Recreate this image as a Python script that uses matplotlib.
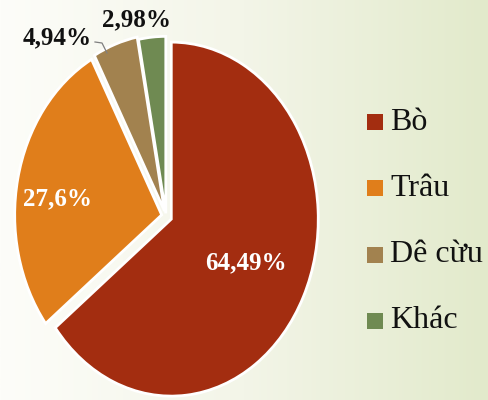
import numpy as np
import matplotlib
matplotlib.use("Agg")
import matplotlib.pyplot as plt
from matplotlib.colors import LinearSegmentedColormap
from matplotlib.patches import Rectangle
from matplotlib import font_manager as fm

# ---- data ----
categories = ["Bò", "Trâu", "Dê cừu", "Khác"]
values = [64.49, 27.6, 4.94, 2.98]
value_labels = ["64,49%", "27,6%", "4,94%", "2,98%"]
colors = ["#A32D10", "#E07E1B", "#A2824F", "#6F8A52"]

W, H = 489, 400
fig = plt.figure(figsize=(W / 100, H / 100), dpi=100)

# fonts (Times-like serif)
reg_path = fm.findfont(fm.FontProperties(family="Liberation Serif", weight="normal"))
bold_path = fm.findfont(fm.FontProperties(family="Liberation Serif", weight="bold"))
fp_leg = fm.FontProperties(fname=reg_path, size=23)
fp_lab = fm.FontProperties(fname=bold_path, size=18)

# background gradient
bg = fig.add_axes([0, 0, 1, 1])
bg.set_axis_off()
grad = np.linspace(0, 1, 256).reshape(1, -1)
cmap = LinearSegmentedColormap.from_list("bg", ["#FDFDF9", "#F3F5E8", "#E2EACB"])
bg.imshow(grad, aspect="auto", cmap=cmap, extent=[0, 1, 0, 1])
bg.set_xlim(0, 1)
bg.set_ylim(0, 1)

# pie axes in pixel-scaled data coords
ax = fig.add_axes([0, 0, 1, 1])
ax.set_axis_off()
ax.patch.set_alpha(0)
rx, ry = 147.0, 177.0
cx, cy = 166.0, 216.0  # pixel center (from top)

explode = [0.04, 0.03, 0.03, 0.015]
wedges, _ = ax.pie(values, colors=colors, startangle=90, counterclock=False,
                   explode=explode, radius=1.0,
                   wedgeprops=dict(edgecolor="white", linewidth=2.0))
ax.set_aspect("auto")
xmin = -cx / rx
ax.set_xlim(xmin, xmin + W / rx)
ymax = cy / ry
ax.set_ylim(ymax - H / ry, ymax)

def px(x, y):
    """pixel (from top-left) -> figure fraction"""
    return x / W, 1 - y / H

# data labels
label_pos = [(246, 263), (58, 199), (57, 38), (137, 20)]
label_col = ["white", "white", "#111111", "#111111"]
for txt, (x, y), c in zip(value_labels, label_pos, label_col):
    fig.text(*px(x, y), txt, ha="center", va="center", color=c,
             fontproperties=fp_lab)

# leader line for 4,94%
lx = [95, 102, 107]
ly = [42, 43, 53]
fig.add_artist(plt.Line2D([v / W for v in lx], [1 - v / H for v in ly],
                          color="#7F7F7F", lw=0.9))

# legend (manual)
leg_y = [122, 188, 255, 321]
for cat, col, y in zip(categories, colors, leg_y):
    x0, y0 = px(367, y + 8)
    fig.add_artist(Rectangle((x0, y0), 16 / W, 16 / H, transform=fig.transFigure,
                             facecolor=col, edgecolor="none"))
    fig.text(*px(390, y), cat, ha="left", va="center", color="#111111",
             fontproperties=fp_leg)

fig.savefig("out.png", dpi=100)
